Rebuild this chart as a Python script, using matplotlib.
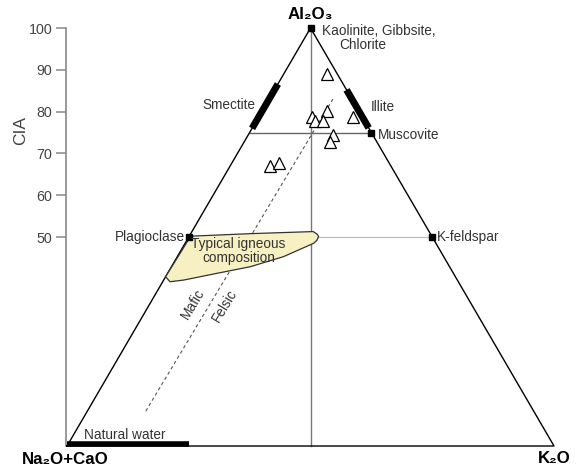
import numpy as np
import matplotlib
matplotlib.use("Agg")
import matplotlib.pyplot as plt
from matplotlib.patches import Polygon

plt.rcParams['font.family'] = ['Liberation Sans', 'DejaVu Sans']

# probki: CIA (A) i udzial K2O (K), w procentach
sample_A = [89.0, 80.2, 78.8, 77.8, 77.8, 78.8, 74.4, 72.8, 67.0, 67.6]
sample_K = [8.9, 13.3, 10.9, 12.1, 13.6, 19.3, 17.5, 17.6, 8.2, 9.8]

# pole typowych skal magmowych (A, K)
ign_A = [50.2, 50.8, 51.3, 50.7, 50.1, 49.2, 48.5, 45.3, 42.9, 41.3, 39.7, 39.3, 40.5]
ign_K = [0.3, 12.2, 24.9, 26.0, 26.6, 26.7, 26.4, 21.8, 16.2, 10.1, 4.1, 1.5, 0.0]

# linia mafic/felsic
trend_A = [83.0, 8.1]
trend_K = [13.1, 12.0]

# mineraly
smectite_A = [76.0, 86.6]
illite_A = [76.1, 85.2]
water_K = [0.0, 25.0]

cia_ticks = [50, 60, 70, 80, 90, 100]


def tern(A, K):
    A = np.asarray(A, dtype=float)
    K = np.asarray(K, dtype=float)
    return K + A / 2.0, A


fig = plt.figure(figsize=(5.77, 4.68), dpi=100)
ax = fig.add_axes([0, 0, 1, 1])
ax.set_xlim(-13.76, 104.72)
ax.set_ylim(-5.26, 106.7)

# trojkat
tx, ty = tern([0, 100, 0, 0], [0, 0, 100, 0])
ax.plot(tx, ty, color='black', lw=1.0, zorder=3)

# linie pomocnicze
x, y = tern([100, 0], [0, 50])
ax.plot(x, y, color='#777777', lw=1.0, zorder=2)
x, y = tern([75, 75], [0, 25])
ax.plot(x, y, color='#666666', lw=1.0, zorder=2)
x, y = tern([50, 50], [0, 50])
ax.plot(x, y, color='#bbbbbb', lw=0.9, zorder=2)

# pole magmowe
px, py = tern(ign_A, ign_K)
ax.add_patch(Polygon(np.column_stack([px, py]), closed=True, facecolor='#f6f0c2',
                     edgecolor='#333333', lw=0.9, joinstyle='round', zorder=4))

# trend
x, y = tern(trend_A, trend_K)
ax.plot(x, y, color='#555555', lw=0.8, ls=(0, (3, 2.5)), zorder=3)

# grube paski
x, y = tern(smectite_A, [0, 0])
ax.plot(x, y, color='black', lw=5, solid_capstyle='butt', zorder=5)
x, y = tern(illite_A, 100 - np.array(illite_A))
ax.plot(x, y, color='black', lw=5, solid_capstyle='butt', zorder=5)
x, y = tern([0, 0], water_K)
ax.plot(x, y + 0.5, color='black', lw=4, solid_capstyle='butt', zorder=5)

# punkty mineralow
x, y = tern([100, 75, 50, 50], [0, 25, 0, 50])
ax.plot(x, y, 's', color='black', ms=4, zorder=6)

# probki
x, y = tern(sample_A, sample_K)
ax.plot(x, y, '^', ms=9, mfc='white', mec='black', mew=0.9, ls='none', zorder=7)

# os CIA
for s in ['top', 'right', 'bottom']:
    ax.spines[s].set_visible(False)
ax.spines['left'].set_position(('data', -0.2))
ax.spines['left'].set_bounds(0, 100)
ax.spines['left'].set_color('#888888')
ax.spines['left'].set_linewidth(1.2)
ax.set_yticks(cia_ticks)
ax.set_xticks([])
ax.tick_params(axis='y', length=7, width=1.1, color='#888888', labelcolor='#444444',
               labelsize=10.3, pad=3)
ax.text(-9.6, 75.4, 'CIA', rotation=90, ha='center', va='center', fontsize=12.5,
        color='#444444')

tc = '#333333'
fs = 9.8
bfs = 12.2
ax.text(49.9, 103.3, 'Al₂O₃', ha='center', va='center', fontsize=bfs, fontweight='bold')
ax.text(52.4, 99.3, 'Kaolinite, Gibbsite,', ha='left', va='center', fontsize=fs, color=tc)
ax.text(60.8, 95.9, 'Chlorite', ha='center', va='center', fontsize=fs, color=tc)
ax.text(38.6, 81.6, 'Smectite', ha='right', va='center', fontsize=fs, color=tc)
ax.text(62.4, 81.1, 'Illite', ha='left', va='center', fontsize=fs, color=tc)
ax.text(63.9, 74.4, 'Muscovite', ha='left', va='center', fontsize=fs, color=tc)
ax.text(24.2, 50.1, 'Plagioclase', ha='right', va='center', fontsize=fs, color=tc)
ax.text(75.9, 50.1, 'K-feldspar', ha='left', va='center', fontsize=fs, color=tc)
ax.text(35.2, 46.6, 'Typical igneous\ncomposition', ha='center', va='center',
        fontsize=fs, color=tc, linespacing=1.0, zorder=8)
ax.text(25.9, 34.1, 'Mafic', rotation=59, ha='center', va='center', fontsize=fs, color=tc)
ax.text(32.4, 33.6, 'Felsic', rotation=59, ha='center', va='center', fontsize=fs, color=tc)
ax.text(3.55, 2.6, 'Natural water', ha='left', va='center', fontsize=fs, color=tc)
ax.text(-0.4, -3.2, 'Na₂O+CaO', ha='center', va='center', fontsize=bfs, fontweight='bold')
ax.text(100.05, -3.1, 'K₂O', ha='center', va='center', fontsize=bfs, fontweight='bold')

fig.savefig('out.png', dpi=100)
